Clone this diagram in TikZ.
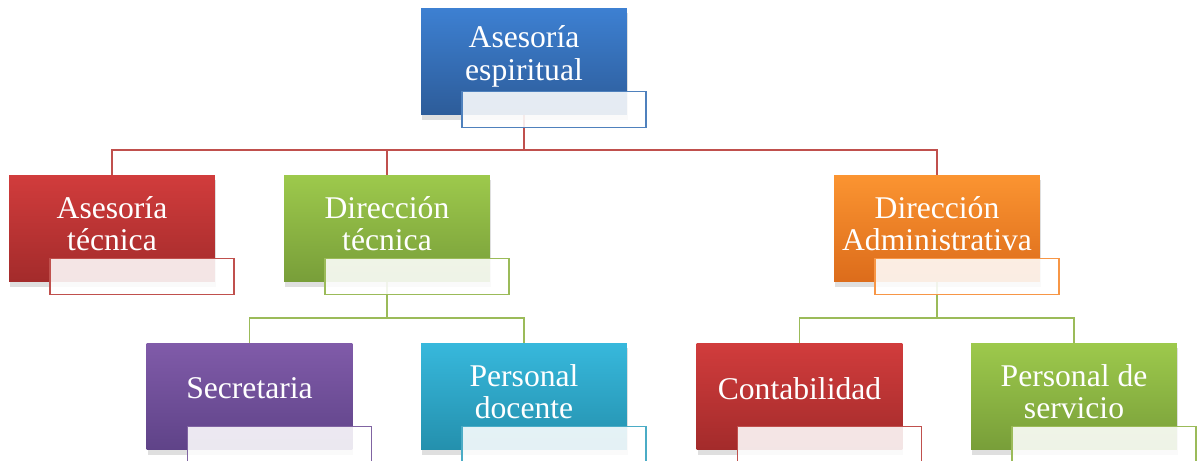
\documentclass[tikz,border=0pt]{standalone}
\usepackage{fontspec}
\setmainfont{Liberation Serif}
\usetikzlibrary{calc,shadows,backgrounds}

\definecolor{azularriba}{HTML}{3D80D2}
\definecolor{azulabajo}{HTML}{2D5C99}
\definecolor{azullinea}{HTML}{4F81BD}
\definecolor{rojoarriba}{HTML}{D13C3C}
\definecolor{rojoabajo}{HTML}{A32B2B}
\definecolor{rojolinea}{HTML}{C0504D}
\definecolor{verdearriba}{HTML}{9DC94C}
\definecolor{verdeabajo}{HTML}{789E39}
\definecolor{verdelinea}{HTML}{9BBB59}
\definecolor{naranjaarriba}{HTML}{FB9431}
\definecolor{naranjaabajo}{HTML}{DC6C1B}
\definecolor{naranjalinea}{HTML}{F79646}
\definecolor{moradoarriba}{HTML}{805BA9}
\definecolor{moradoabajo}{HTML}{5F4388}
\definecolor{moradolinea}{HTML}{8064A2}
\definecolor{cianarriba}{HTML}{37B8DC}
\definecolor{cianabajo}{HTML}{2490AD}
\definecolor{cianlinea}{HTML}{4BACC6}

\begin{document}
\begin{tikzpicture}[x=0.02cm,y=-0.02cm,
  cargo/.style={rectangle, minimum width=4.12cm, minimum height=2.14cm,
    drop shadow={opacity=0.25,shadow xshift=0.02cm,shadow yshift=-0.1cm}},
  etiqueta/.style={rectangle, line width=0.8pt, fill=white, fill opacity=0.88,
    minimum width=3.68cm, minimum height=0.72cm},
  texto/.style={text=white, align=center, font=\fontsize{18}{18.5}\selectfont},
  linea/.style={line width=1pt}]

\useasboundingbox (0,0) rectangle (1200,460);

% nivel 1
\node[cargo, top color=azularriba, bottom color=azulabajo] (espiritual) at (524,61.5) {};
\node[texto] (espiritual-t) at ($(espiritual)+(0,-5)$) {Asesoría\\espiritual};
\node[etiqueta, draw=azullinea] (espiritual-e) at ($(espiritual)+(30,48)$) {};

% nivel 2
\node[cargo, top color=rojoarriba, bottom color=rojoabajo] (asesoria) at (112,228.5) {};
\node[texto] (asesoria-t) at ($(asesoria)+(0,-5)$) {Asesoría\\técnica};
\node[etiqueta, draw=rojolinea] (asesoria-e) at ($(asesoria)+(30,48)$) {};

\node[cargo, top color=verdearriba, bottom color=verdeabajo] (direccion) at (387,228.5) {};
\node[texto] (direccion-t) at ($(direccion)+(0,-5)$) {Dirección\\técnica};
\node[etiqueta, draw=verdelinea] (direccion-e) at ($(direccion)+(30,48)$) {};

\node[cargo, top color=naranjaarriba, bottom color=naranjaabajo] (admin) at (937,228.5) {};
\node[texto] (admin-t) at ($(admin)+(0,-5)$) {Dirección\\Administrativa};
\node[etiqueta, draw=naranjalinea] (admin-e) at ($(admin)+(30,48)$) {};

% nivel 3
\node[cargo, top color=moradoarriba, bottom color=moradoabajo] (secretaria) at (249.5,396.5) {};
\node[texto] (secretaria-t) at ($(secretaria)+(0,-8)$) {Secretaria};
\node[etiqueta, draw=moradolinea] (secretaria-e) at ($(secretaria)+(30,48)$) {};

\node[cargo, top color=cianarriba, bottom color=cianabajo] (docente) at (524,396.5) {};
\node[texto] (docente-t) at ($(docente)+(0,-5)$) {Personal\\docente};
\node[etiqueta, draw=cianlinea] (docente-e) at ($(docente)+(30,48)$) {};

\node[cargo, top color=rojoarriba, bottom color=rojoabajo] (contab) at (799.5,396.5) {};
\node[texto] (contab-t) at ($(contab)+(0,-8)$) {Contabilidad};
\node[etiqueta, draw=rojolinea] (contab-e) at ($(contab)+(30,48)$) {};

\node[cargo, top color=verdearriba, bottom color=verdeabajo] (servicio) at (1074,396.5) {};
\node[texto] (servicio-t) at ($(servicio)+(0,-5)$) {Personal de\\servicio};
\node[etiqueta, draw=verdelinea] (servicio-e) at ($(servicio)+(30,48)$) {};

% conectores
\begin{scope}[on background layer]
\coordinate (bus1) at (524,150);
\draw[linea, rojolinea] (espiritual) -- (bus1);
\draw[linea, rojolinea] (asesoria) |- (bus1) -| (admin);
\draw[linea, rojolinea] (direccion) -- (direccion |- bus1);
\coordinate (bus2) at (387,318);
\draw[linea, verdelinea] (direccion) -- (bus2);
\draw[linea, verdelinea] (secretaria) |- (bus2) -| (docente);
\coordinate (bus3) at (937,318);
\draw[linea, verdelinea] (admin) -- (bus3);
\draw[linea, verdelinea] (contab) |- (bus3) -| (servicio);
\end{scope}

\end{tikzpicture}
\end{document}
